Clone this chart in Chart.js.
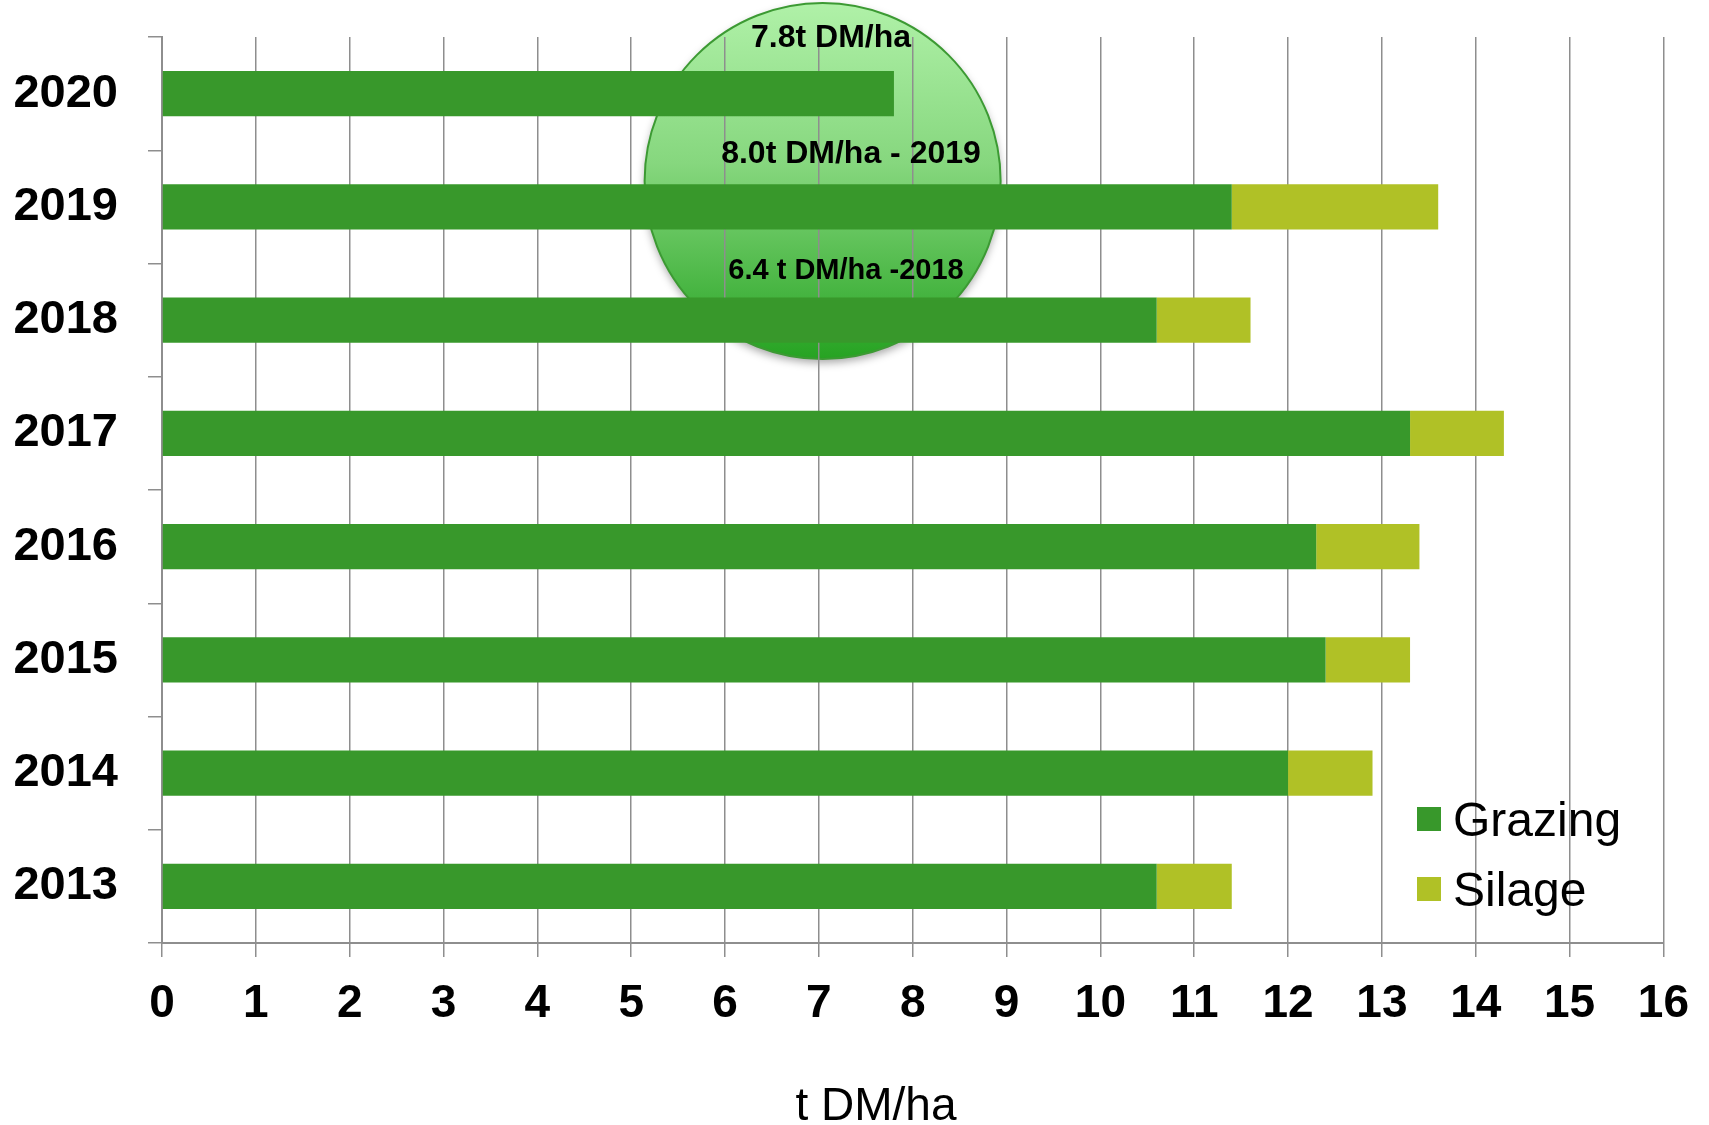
<!DOCTYPE html>
<html>
<head>
<meta charset="utf-8">
<script src="https://cdn.jsdelivr.net/npm/chart.js@4"></script>
<style>
  html, body { margin: 0; padding: 0; background: #fff; }
  #wrap { width: 1709px; height: 1125px; position: relative; }
</style>
</head>
<body>
<div id="wrap"><canvas id="yieldChart"></canvas></div>
<script>
// 데이터 (top → bottom)
const years = ['2020', '2019', '2018', '2017', '2016', '2015', '2014', '2013'];
const grazing = [7.8, 11.4, 10.6, 13.3, 12.3, 12.4, 12.0, 10.6];
const silage = [0, 2.2, 1.0, 1.0, 1.1, 0.9, 0.9, 0.8];
const xTicks = [0, 16]; // min, max
const bubbleNotes = ['7.8t DM/ha', '8.0t DM/ha - 2019', '6.4 t DM/ha -2018'];
const axisTitle = 't DM/ha';

const FONT = '"Liberation Sans", Arial, Helvetica, sans-serif';
const GRID = '#8e8e8e';

// 원형 말풍선 (그리드 아래)
const bubblePlugin = {
    id: 'bubble',
    beforeDraw(chart) {
        const { ctx, chartArea, scales } = chart;
        const cx = scales.x.getPixelForValue(7.04);
        const cy = chartArea.top + 144;
        const r = 178;
        ctx.save();
        const g = ctx.createLinearGradient(0, cy - r, 0, cy + r);
        g.addColorStop(0, '#b0f1a8');
        g.addColorStop(0.45, '#86d77e');
        g.addColorStop(1, '#26a322');
        ctx.shadowColor = 'rgba(0,0,0,0.35)';
        ctx.shadowBlur = 8;
        ctx.shadowOffsetY = 4;
        ctx.beginPath();
        ctx.arc(cx, cy, r, 0, Math.PI * 2);
        ctx.fillStyle = g;
        ctx.fill();
        ctx.shadowColor = 'transparent';
        ctx.lineWidth = 2;
        ctx.strokeStyle = '#3c9a33';
        ctx.stroke();
        ctx.restore();
    },
    afterDraw(chart) {
        const { ctx } = chart;
        ctx.save();
        ctx.fillStyle = '#000';
        ctx.textAlign = 'center';
        ctx.textBaseline = 'alphabetic';
        // [x, baseline, size]
        const spots = [[831, 47, 32], [851, 163, 32], [846, 279, 29]];
        bubbleNotes.forEach((t, i) => {
            ctx.font = 'bold ' + spots[i][2] + 'px ' + FONT;
            ctx.fillText(t, spots[i][0], spots[i][1]);
        });

        // 범례
        ctx.font = '48px ' + FONT;
        ctx.textAlign = 'left';
        chart.data.datasets.forEach((ds, i) => {
            const y = 807 + i * 70;
            ctx.fillStyle = ds.backgroundColor;
            ctx.fillRect(1417, y, 24, 24);
            ctx.fillStyle = '#000';
            ctx.fillText(ds.label, 1453, y + 29);
        });

        // x축 제목
        ctx.font = '46px ' + FONT;
        ctx.textAlign = 'center';
        ctx.fillText(axisTitle, 876, 1120);
        ctx.restore();
    }
};

new Chart(document.getElementById('yieldChart'), {
    type: 'bar',
    data: {
        labels: years,
        datasets: [
            { label: 'Grazing', data: grazing, backgroundColor: '#38982b' },
            { label: 'Silage', data: silage, backgroundColor: '#b0c126' }
        ]
    },
    options: {
        indexAxis: 'y',
        responsive: true,
        maintainAspectRatio: false,
        animation: false,
        layout: { padding: { top: 37, right: 44, left: 0, bottom: 0 } },
        categoryPercentage: 1,
        barPercentage: 0.4,
        plugins: {
            legend: { display: false },
            tooltip: { enabled: false }
        },
        scales: {
            x: {
                stacked: true,
                min: xTicks[0],
                max: xTicks[1],
                ticks: {
                    stepSize: 1,
                    color: '#000',
                    padding: 20,
                    font: { family: FONT, size: 46, weight: 'bold' }
                },
                grid: { color: GRID, lineWidth: 1.5, tickLength: 14, tickColor: GRID },
                border: { color: GRID, width: 2 },
                afterFit(s) { s.height = 182; }
            },
            y: {
                stacked: true,
                ticks: {
                    color: '#000',
                    padding: 30,
                    font: { family: FONT, size: 47, weight: 'bold' }
                },
                grid: { drawOnChartArea: false, offset: true, tickLength: 14, color: GRID, lineWidth: 1.5 },
                border: { color: GRID, width: 2 },
                afterFit(s) {
                    s.width = 162;
                    s.paddingTop = 0;
                    s.paddingBottom = 0;
                }
            }
        }
    },
    plugins: [bubblePlugin]
});
</script>
</body>
</html>
